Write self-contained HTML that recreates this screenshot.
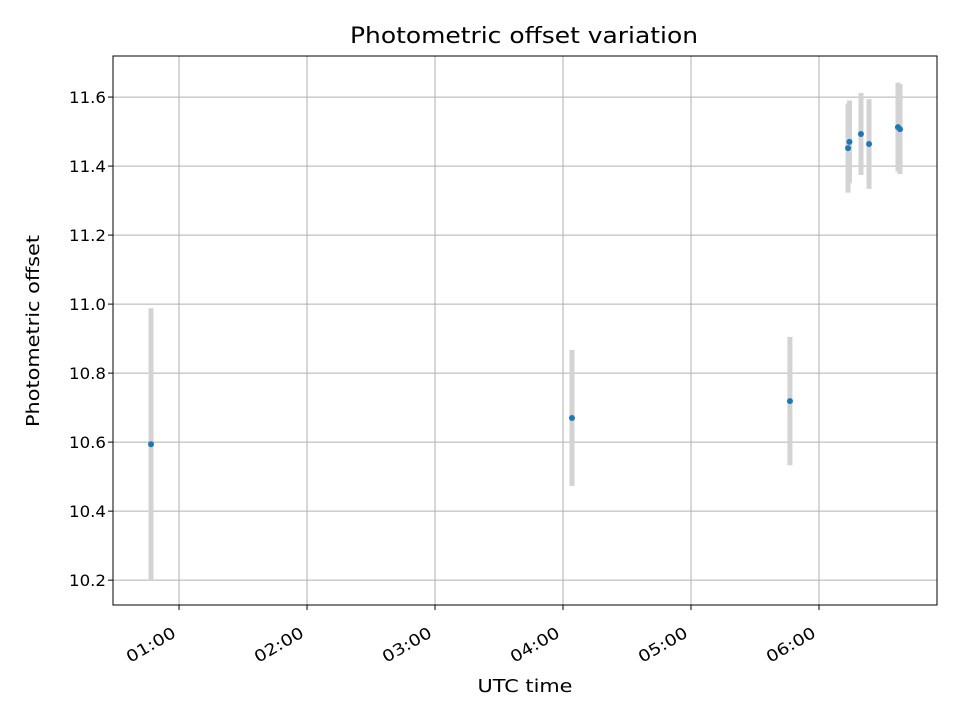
<!DOCTYPE html>
<html><head><meta charset="utf-8"><style>
body{margin:0;background:#fff;font-family:"DejaVu Sans","Liberation Sans",sans-serif}
</style></head><body>
<svg width="960" height="720" xmlns="http://www.w3.org/2000/svg" font-family="'DejaVu Sans', 'Liberation Sans', sans-serif">
<rect width="960" height="720" fill="#fff"/>
<g id="grid"></g><g id="bars"></g><g id="pts"></g><g id="ticks"></g>
<rect x="113" y="56" width="824" height="549" fill="none" stroke="#000" stroke-width="1"/>
<text x="524" y="43" text-anchor="middle" font-size="22" textLength="348" lengthAdjust="spacingAndGlyphs">Photometric offset variation</text>
<text x="525" y="692" text-anchor="middle" font-size="18" textLength="95" lengthAdjust="spacingAndGlyphs">UTC time</text>
<text transform="translate(39,331) rotate(-90)" text-anchor="middle" font-size="18" textLength="192" lengthAdjust="spacingAndGlyphs">Photometric offset</text>
</svg>
<script>
const times=[0.781,4.070,5.773,6.227,6.238,6.328,6.391,6.617,6.633];
const values=[10.594,10.670,10.719,11.452,11.470,11.493,11.464,11.513,11.507];
const errors=[0.394,0.197,0.186,0.129,0.12,0.119,0.13,0.129,0.13];
const xTicks=[1,2,3,4,5,6];
const xTickLabels=["01:00","02:00","03:00","04:00","05:00","06:00"];
const yTicks=[10.2,10.4,10.6,10.8,11.0,11.2,11.4,11.6];
const X0=113,X1=937,Y0=605,Y1=56,xmin=0.484,xmax=6.922,ymin=10.128,ymax=11.719;
const sx=v=>X0+(v-xmin)/(xmax-xmin)*(X1-X0);
const sy=v=>Y0-(v-ymin)/(ymax-ymin)*(Y0-Y1);
const NS="http://www.w3.org/2000/svg";
function mk(p,t,a){const e=document.createElementNS(NS,t);for(const k in a)e.setAttribute(k,a[k]);document.getElementById(p).appendChild(e);return e;}
xTicks.forEach((t,i)=>{const x=sx(t);
 let g=mk('grid','line',{x1:x,x2:x,y1:Y1,y2:Y0,stroke:'#b0b0b0','stroke-width':1});
 
 mk('ticks','line',{x1:x,x2:x,y1:Y0,y2:Y0+5,stroke:'#000'});
 const lx=x-2,ly=Y0+31;
 let tx=mk('ticks','text',{x:lx,y:ly,'text-anchor':'end','font-size':16,textLength:54,lengthAdjust:'spacingAndGlyphs',transform:`rotate(-30 ${lx} ${ly})`});
 
 tx.textContent=xTickLabels[i];});
yTicks.forEach(t=>{const y=sy(t);
 let g=mk('grid','line',{x1:X0,x2:X1,y1:y,y2:y,stroke:'#b0b0b0','stroke-width':1});
 
 mk('ticks','line',{x1:X0-5,x2:X0,y1:y,y2:y,stroke:'#000'});
 let tx=mk('ticks','text',{x:X0-7,y:y+6,'text-anchor':'end','font-size':16,textLength:37,lengthAdjust:'spacingAndGlyphs'});
 
 tx.textContent=t.toFixed(1);});
times.forEach((t,i)=>{const x=sx(t);
 let b=mk('bars','line',{x1:x,x2:x,y1:sy(values[i]-errors[i]),y2:sy(values[i]+errors[i]),stroke:'#d3d3d3','stroke-width':5});
 
 let c=mk('pts','circle',{cx:x,cy:sy(values[i]),r:3,fill:'#1f77b4'});
 });
</script>
</body></html>
